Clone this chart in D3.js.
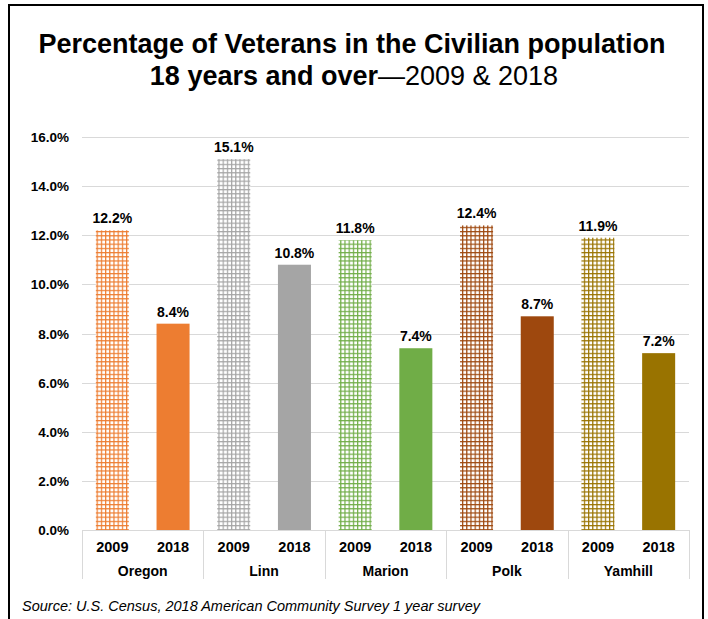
<!DOCTYPE html>
<html>
<head>
<meta charset="utf-8">
<script src="https://cdn.jsdelivr.net/npm/d3@7"></script>
<style>
  html, body { margin: 0; padding: 0; background: #fff; }
  svg { display: block; font-family: "Liberation Sans", Arial, sans-serif; }
</style>
</head>
<body>
<svg id="chart" width="708" height="619"></svg>
<script>
const categories = ["Oregon", "Linn", "Marion", "Polk", "Yamhill"];
const years = ["2009", "2018"];
const values2009 = [12.2, 15.1, 11.8, 12.4, 11.9];
const values2018 = [8.4, 10.8, 7.4, 8.7, 7.2];
const colors = ["#ED7D31", "#A5A5A5", "#70AD47", "#9E480E", "#997300"];
const yTicks = [0, 2, 4, 6, 8, 10, 12, 14, 16];

const svg = d3.select("#chart");
const W = 708, H = 619;
const plot = { left: 82, right: 689, top: 137, bottom: 530 };

// frame
svg.append("path")
  .attr("d", `M9,${H} L9,5 L703,5 L703,${H}`)
  .attr("fill", "none").attr("stroke", "#000").attr("stroke-width", 2);

// title
const title = svg.append("text").attr("text-anchor", "middle").attr("fill", "#000");
title.append("tspan").attr("x", 352).attr("y", 53)
  .attr("font-weight", "bold").attr("font-size", 27)
  .text("Percentage of Veterans in the Civilian population");
const t2 = title.append("tspan").attr("x", 354).attr("y", 85).attr("font-size", 27);
t2.append("tspan").attr("font-weight", "bold").text("18 years and over");
t2.append("tspan").attr("font-weight", "normal").text("—2009 & 2018");

// data table
const rows = [];
categories.forEach((c, i) => {
  rows.push({ cat: c, year: years[0], value: values2009[i], color: colors[i], key: c + "-" + years[0], hatch: true });
  rows.push({ cat: c, year: years[1], value: values2018[i], color: colors[i], key: c + "-" + years[1], hatch: false });
});

const y = d3.scaleLinear().domain([0, 16]).range([plot.bottom, plot.top]);
const xCat = d3.scaleBand().domain(categories).range([plot.left, plot.right]).padding(0);
const x = d3.scaleBand().domain(rows.map(d => d.key)).range([plot.left, plot.right])
  .paddingInner(0.456).paddingOuter(0.228);

// patterns
const defs = svg.append("defs");
categories.forEach((c, i) => {
  const p = defs.append("pattern").attr("id", "hatch" + i)
    .attr("patternUnits", "userSpaceOnUse").attr("width", 4.2).attr("height", 4.2);
  p.append("rect").attr("width", 4.2).attr("height", 4.2).attr("fill", "#fff");
  p.append("rect").attr("x", 0).attr("y", 0).attr("width", 1.2).attr("height", 4.2).attr("fill", colors[i]);
  p.append("rect").attr("x", 0).attr("y", 0).attr("width", 4.2).attr("height", 1.2).attr("fill", colors[i]);
});

// gridlines
svg.append("g").selectAll("line").data(yTicks.filter(t => t > 0)).join("line")
  .attr("x1", plot.left).attr("x2", plot.right)
  .attr("y1", d => Math.round(y(d)) + 0.5).attr("y2", d => Math.round(y(d)) + 0.5)
  .attr("stroke", "#d9d9d9").attr("stroke-width", 1);

// y axis labels
svg.append("g").selectAll("text").data(yTicks).join("text")
  .attr("x", 69).attr("y", d => y(d) + 5)
  .attr("text-anchor", "end").attr("font-size", 13.5).attr("font-weight", "bold").attr("fill", "#000")
  .text(d => d3.format(".1f")(d) + "%");

// bars
svg.append("g").selectAll("rect").data(rows).join("rect")
  .attr("x", d => x(d.key)).attr("width", x.bandwidth())
  .attr("y", d => y(d.value)).attr("height", d => y(0) - y(d.value))
  .attr("fill", d => d.hatch ? `url(#hatch${categories.indexOf(d.cat)})` : d.color);

// value labels
svg.append("g").selectAll("text").data(rows).join("text")
  .attr("x", d => x(d.key) + x.bandwidth() / 2).attr("y", d => y(d.value) - 7)
  .attr("text-anchor", "middle").attr("font-size", 14).attr("font-weight", "bold").attr("fill", "#000")
  .text(d => d.value.toFixed(1) + "%");

// category axis
const axisG = svg.append("g");
axisG.append("line").attr("x1", plot.left).attr("x2", plot.right)
  .attr("y1", plot.bottom + 0.5).attr("y2", plot.bottom + 0.5).attr("stroke", "#d9d9d9");
const seps = categories.map(c => xCat(c)).concat([plot.right]);
axisG.selectAll("line.sep").data(seps).join("line").attr("class", "sep")
  .attr("x1", d => Math.round(d) + 0.5).attr("x2", d => Math.round(d) + 0.5)
  .attr("y1", plot.bottom).attr("y2", 579).attr("stroke", "#d9d9d9");
axisG.selectAll("text.yr").data(rows).join("text").attr("class", "yr")
  .attr("x", d => x(d.key) + x.bandwidth() / 2).attr("y", 552)
  .attr("text-anchor", "middle").attr("font-size", 14.5).attr("font-weight", "bold").attr("fill", "#000")
  .text(d => d.year);
axisG.selectAll("text.cat").data(categories).join("text").attr("class", "cat")
  .attr("x", d => xCat(d) + xCat.bandwidth() / 2).attr("y", 576)
  .attr("text-anchor", "middle").attr("font-size", 14).attr("font-weight", "bold").attr("fill", "#000")
  .text(d => d);

// source
svg.append("text").attr("x", 22).attr("y", 611)
  .attr("font-size", 14.5).attr("font-style", "italic").attr("fill", "#000")
  .text("Source: U.S. Census, 2018 American Community Survey 1 year survey");
</script>
</body>
</html>
